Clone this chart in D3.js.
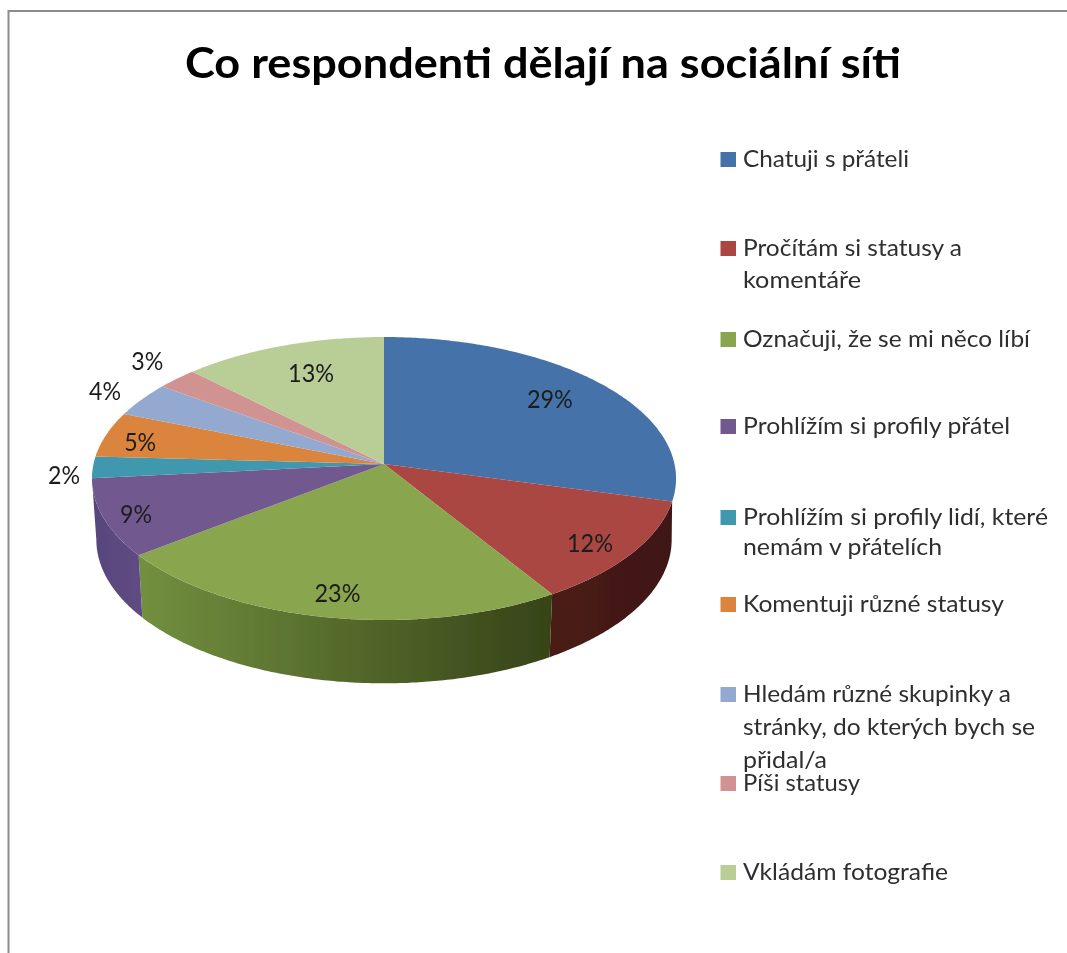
<!DOCTYPE html>
<html>
<head>
<meta charset="utf-8">
<script src="https://cdn.jsdelivr.net/npm/d3@7"></script>
<style>
html,body{margin:0;padding:0;background:#fff;overflow:hidden}
svg{display:block}
text{font-family:Lato,"Noto Sans",sans-serif}
</style>
</head>
<body>
<div id="chart"></div>
<script>
// ---- data ----
const chartTitle = "Co respondenti dělají na sociální síti";
const categories = [
  "Chatuji s přáteli",
  "Pročítám si statusy a komentáře",
  "Označuji, že se mi něco líbí",
  "Prohlížím si profily přátel",
  "Prohlížím si profily lidí, které nemám v přátelích",
  "Komentuji různé statusy",
  "Hledám různé skupinky a stránky, do kterých bych se přidal/a",
  "Píši statusy",
  "Vkládám fotografie"
];
// slice sizes; the printed labels are these rounded
const shares = [29.2, 11.94, 23.4, 8.86, 2.45, 5.19, 3.93, 2.52, 12.51];
const colours = ["#4472a8","#aa4643","#89a54e","#71588f","#4198af","#db843d","#93a9cf","#d19392","#b9cd96"];

// ---- layout (not data) ----
const legendLines = [
  [["Chatuji s přáteli",166]],
  [["Pročítám si statusy a",219],["komentáře",118]],
  [["Označuji, že se mi něco líbí",287]],
  [["Prohlížím si profily přátel",267]],
  [["Prohlížím si profily lidí, které",305],["nemám v přátelích",199]],
  [["Komentuji různé statusy",261]],
  [["Hledám různé skupinky a",268],["stránky, do kterých bych se",292],["přidal/a",84]],
  [["Píši statusy",117]],
  [["Vkládám fotografie",205]]
];
const legendBaselines = [[167],[256,288],[347],[434],[525,555],[612],[702,735,768],[791],[880]];
const labelRadius = [.753,.838,.843,.888,1.099,.876,1.159,1.152,.699];
const labelNudge = [[0,-5],[0,4],[1,1],[0,1],[0,6],[0,3],[0,0],[0,-7],[0,-7]];
const sideStops = [
  null,
  ["#4b1d18","#3e1512"],
  ["#72903f","#364318"],
  ["#57457a","#604c84"],
  null,null,null,null,null
];
const W = 1067, H = 953;
const cx = 384, cy = 464, Rx = 290.5, Ry = 140, k = 0.1025;
const bottomScaleX = 0.985, bottomScaleY = 1.015, bottomDrop = 61;

// perspective projection of a point on the unit disc, angle clockwise from top
const project = (r, a) => {
  const w = 1 + k * r * Math.cos(a);
  return [cx + Rx * r * Math.sin(a) / w, cy - Ry * r * Math.cos(a) / w];
};
const projectBottom = (r, a) => {
  const [x, y] = project(r, a);
  return [cx + (x - cx) * bottomScaleX, cy + bottomDrop + (y - cy) * bottomScaleY];
};

const svg = d3.select("#chart").append("svg").attr("width", W).attr("height", H).attr("viewBox", `0 0 ${W} ${H}`);
const defs = svg.append("defs");
defs.append("filter").attr("id","soft").attr("x","-5%").attr("y","-5%").attr("width","110%").attr("height","110%")
  .append("feGaussianBlur").attr("stdDeviation",0.45);

svg.append("rect").attr("width",W).attr("height",H).attr("fill","#fff");
const root = svg.append("g").attr("filter","url(#soft)");

// frame
root.append("path").attr("d",`M8.5,${H} V11 H${W}`).attr("fill","none").attr("stroke","#8c8c8c").attr("stroke-width",2);

// title
root.append("text").attr("x",185).attr("y",78).attr("font-size",42).attr("font-weight",700).attr("fill","#000")
  .attr("textLength",716).attr("lengthAdjust","spacingAndGlyphs").text(chartTitle);

// pie
const pie = d3.pie().sort(null).value(d => d).startAngle(0).endAngle(2*Math.PI);
const arcs = pie(shares);
const line = d3.line();
const angleSamples = (a0, a1) => {
  const n = Math.max(2, Math.ceil((a1 - a0) / 0.01));
  return d3.range(n + 1).map(i => a0 + (a1 - a0) * i / n);
};

// side wall: visible front part of the rim
const sideFrom = Math.acos(-k), sideTo = 2*Math.PI - Math.acos(-k);
const sideG = root.append("g");
arcs.forEach((d, i) => {
  if (!sideStops[i]) return;
  const a0 = Math.max(d.startAngle, sideFrom), a1 = Math.min(d.endAngle, sideTo);
  if (a1 <= a0) return;
  // the first visible wall also covers the sliver round the right-hand silhouette
  const bottomStart = i === 1 ? sideFrom : a0;
  const pts = angleSamples(a0, a1).map(a => project(1, a))
    .concat(angleSamples(bottomStart, a1).reverse().map(a => projectBottom(1, a)));
  const xs = pts.map(p => p[0]);
  const id = "side" + i;
  const g = defs.append("linearGradient").attr("id", id).attr("gradientUnits","userSpaceOnUse")
    .attr("x1", d3.min(xs)).attr("x2", d3.max(xs)).attr("y1",0).attr("y2",0);
  g.append("stop").attr("offset",0).attr("stop-color",sideStops[i][0]);
  g.append("stop").attr("offset",1).attr("stop-color",sideStops[i][1]);
  sideG.append("path").attr("d", line(pts) + "Z").attr("fill",`url(#${id})`);
});

// top face
root.append("g").selectAll("path").data(arcs).join("path")
  .attr("d", d => line([project(0,0)].concat(angleSamples(d.startAngle,d.endAngle).map(a => project(1,a)))) + "Z")
  .attr("fill", (d,i) => colours[i]);

// data labels
const fmt = d3.format(".0%");
root.append("g").selectAll("text").data(arcs).join("text")
  .each(function(d,i){
    const mid = (d.startAngle + d.endAngle) / 2;
    const [x,y] = project(labelRadius[i], mid);
    const txt = fmt(d.data/100);
    d3.select(this).attr("x", x + labelNudge[i][0]).attr("y", y + labelNudge[i][1]).text(txt)
      .attr("textLength", txt.length > 2 ? 46 : 32).attr("lengthAdjust","spacingAndGlyphs");
  })
  .attr("text-anchor","middle").attr("dominant-baseline","central")
  .attr("font-size",25).attr("fill","#1e1e1e");

// legend
const legend = root.append("g");
categories.forEach((c,i) => {
  const first = legendBaselines[i][0];
  legend.append("rect").attr("x",720.5).attr("y",first-15).attr("width",15.5).attr("height",15).attr("fill",colours[i]);
  legendLines[i].forEach(([t,w],j) => {
    legend.append("text").attr("x",743).attr("y",legendBaselines[i][j]).attr("font-size",24).attr("fill","#2f2f2f")
      .attr("textLength",w).attr("lengthAdjust","spacingAndGlyphs").text(t);
  });
});
</script>
</body>
</html>
